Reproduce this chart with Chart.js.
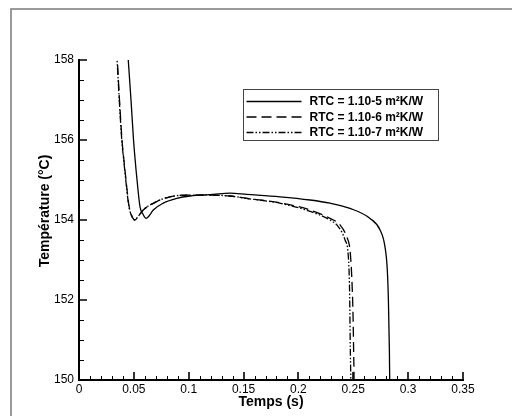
<!DOCTYPE html>
<html>
<head>
<meta charset="utf-8">
<script src="https://cdn.jsdelivr.net/npm/chart.js@4.4.1/dist/chart.umd.min.js"></script>
<style>
  html, body { margin: 0; padding: 0; background: #fff; }
  #wrap { width: 512px; height: 416px; }
</style>
</head>
<body>
<div id="wrap"><canvas id="tempChart" width="512" height="416"></canvas></div>
<script>
  // valeurs : temps (s) / température (°C)
  var labels = ['RTC = 1.10-5 m\u00b2K/W', 'RTC = 1.10-6 m\u00b2K/W', 'RTC = 1.10-7 m\u00b2K/W'];

  var tempsRtc5 = [0.0419, 0.0449, 0.0474, 0.0497, 0.0520, 0.0538, 0.0556, 0.0583, 0.0611, 0.0638, 0.0677, 0.0768, 0.0891, 0.1012, 0.1222, 0.1376, 0.1529, 0.1832, 0.2106, 0.2288, 0.2470, 0.2653, 0.2744, 0.2789, 0.2810, 0.2820, 0.2829, 0.2832, 0.2835];
  var tempRtc5  = [159.0, 158.0, 157.0, 156.0, 155.25, 154.75, 154.33, 154.15, 154.04, 154.10, 154.25, 154.42, 154.54, 154.60, 154.64, 154.67, 154.64, 154.58, 154.50, 154.42, 154.29, 154.04, 153.75, 153.33, 152.75, 152.0, 150.75, 150.0, 149.0];

  var tempsRtc6 = [0.0328, 0.0349, 0.0369, 0.0392, 0.0419, 0.0438, 0.0456, 0.0479, 0.0510, 0.0538, 0.0586, 0.0708, 0.0830, 0.0982, 0.1222, 0.1376, 0.1529, 0.1832, 0.2106, 0.2288, 0.2379, 0.2440, 0.2470, 0.2486, 0.2498, 0.2503, 0.2507, 0.2509];
  var tempRtc6  = [159.0, 158.0, 157.0, 156.0, 155.25, 154.75, 154.35, 154.12, 154.0, 154.08, 154.25, 154.46, 154.58, 154.62, 154.62, 154.60, 154.54, 154.43, 154.25, 154.04, 153.88, 153.58, 153.25, 152.58, 151.58, 150.75, 150.0, 149.0];

  var tempsRtc7 = [0.0326, 0.0347, 0.0367, 0.0390, 0.0417, 0.0436, 0.0454, 0.0477, 0.0508, 0.0536, 0.0584, 0.0706, 0.0828, 0.0980, 0.1220, 0.1374, 0.1527, 0.1830, 0.2100, 0.2288, 0.2364, 0.2425, 0.2455, 0.2466, 0.2473, 0.2477, 0.2479];
  var tempRtc7  = [159.0, 158.0, 157.0, 156.0, 155.25, 154.75, 154.35, 154.12, 154.0, 154.08, 154.25, 154.46, 154.58, 154.62, 154.62, 154.60, 154.54, 154.42, 154.22, 154.0, 153.83, 153.5, 153.08, 152.25, 150.75, 150.0, 149.0];

  var xTicks = [0, 0.05, 0.1, 0.15, 0.2, 0.25, 0.3, 0.35];
  var yTicks = [150, 152, 154, 156, 158];
  var yTitle = 'Température (°C)';

  function points(xs, ys) {
    return xs.map(function (t, i) { return {x: t, y: ys[i]}; });
  }

  var FONT = "'Liberation Sans', Arial, Helvetica, sans-serif";

  // cadre gris, titre vertical, graduations vers l'intérieur et légende encadrée
  var decor = {
    id: 'decor',
    beforeDraw: function (chart) {
      var ctx = chart.ctx, a = chart.chartArea;
      ctx.save();
      ctx.strokeStyle = '#7a7a7a';
      ctx.lineWidth = 1.5;
      ctx.beginPath();
      ctx.moveTo(11, chart.height);
      ctx.lineTo(11, 9);
      ctx.lineTo(chart.width, 9);
      ctx.stroke();

      ctx.translate(45, (a.top + a.bottom) / 2 - 9);
      ctx.rotate(-Math.PI / 2);
      ctx.font = 'bold 14px ' + FONT;
      ctx.fillStyle = '#000';
      ctx.textAlign = 'center';
      ctx.textBaseline = 'middle';
      ctx.fillText(yTitle, 0, 0);
      ctx.restore();
    },
    afterDatasetsDraw: function (chart) {
      var ctx = chart.ctx, a = chart.chartArea;
      var sx = chart.scales.x, sy = chart.scales.y;
      ctx.save();
      ctx.strokeStyle = '#000';

      // graduations secondaires
      ctx.lineWidth = 1;
      ctx.beginPath();
      for (var i = 0; i <= 35; i++) {
        if (i % 5 === 0) continue;
        var px = Math.round(sx.getPixelForValue(i / 100)) + 0.5;
        ctx.moveTo(px, a.bottom);
        ctx.lineTo(px, a.bottom - 4);
      }
      for (var k = 0; k <= 16; k++) {
        if (k % 4 === 0) continue;
        var py = Math.round(sy.getPixelForValue(150 + k * 0.5)) + 0.5;
        ctx.moveTo(a.left, py);
        ctx.lineTo(a.left + 5, py);
      }
      ctx.stroke();

      // graduations principales
      ctx.lineWidth = 1.6;
      ctx.beginPath();
      xTicks.forEach(function (v) {
        var px = Math.round(sx.getPixelForValue(v));
        ctx.moveTo(px, a.bottom);
        ctx.lineTo(px, a.bottom - 8);
      });
      yTicks.forEach(function (v) {
        var py = Math.round(sy.getPixelForValue(v));
        ctx.moveTo(a.left, py);
        ctx.lineTo(a.left + 8, py);
      });
      ctx.stroke();

      // légende
      var bx = 243.5, by = 89.5, bw = 195, bh = 51;
      ctx.fillStyle = '#fff';
      ctx.fillRect(bx, by, bw, bh);
      ctx.strokeStyle = '#444';
      ctx.lineWidth = 1;
      ctx.strokeRect(bx, by, bw, bh);
      ctx.font = 'bold 12px ' + FONT;
      ctx.textBaseline = 'middle';
      ctx.textAlign = 'left';
      chart.data.datasets.forEach(function (ds, j) {
        var ly = by + 12 + j * 15.5;
        ctx.strokeStyle = ds.borderColor;
        ctx.lineWidth = ds.borderWidth;
        ctx.setLineDash(ds.borderDash || []);
        ctx.beginPath();
        ctx.moveTo(bx + 3, ly);
        ctx.lineTo(bx + 58, ly);
        ctx.stroke();
        ctx.setLineDash([]);
        ctx.fillStyle = '#000';
        ctx.fillText(ds.label, bx + 66, ly + 0.5);
      });
      ctx.restore();
    }
  };

  var ctx = document.getElementById('tempChart').getContext('2d');
  var myChart = new Chart(ctx, {
    type: 'line',
    data: {
      datasets: [{
        label: labels[0],
        data: points(tempsRtc5, tempRtc5),
        borderColor: '#000',
        borderWidth: 1.3
      }, {
        label: labels[1],
        data: points(tempsRtc6, tempRtc6),
        borderColor: '#000',
        borderWidth: 1.3,
        borderDash: [10, 5]
      }, {
        label: labels[2],
        data: points(tempsRtc7, tempRtc7),
        borderColor: '#000',
        borderWidth: 1.3,
        borderDash: [7, 2, 1.5, 2, 1.5, 2]
      }]
    },
    options: {
      responsive: false,
      animation: false,
      events: [],
      elements: {
        point: { radius: 0 },
        line: { cubicInterpolationMode: 'monotone', fill: false }
      },
      layout: { padding: { left: 37, right: 49, top: 60, bottom: 5 } },
      plugins: { legend: { display: false }, tooltip: { enabled: false } },
      scales: {
        x: {
          type: 'linear',
          min: 0,
          max: 0.35,
          afterFit: function (s) { s.height = 31; },
          afterBuildTicks: function (s) { s.ticks = xTicks.map(function (v) { return {value: v}; }); },
          grid: { display: false, drawTicks: false },
          border: { display: true, color: '#000', width: 2 },
          ticks: {
            padding: 2,
            color: '#000',
            font: { family: FONT, size: 12 },
            maxRotation: 0,
            autoSkip: false,
            callback: function (v) { return String(+(+v).toFixed(2)); }
          },
          title: {
            display: true,
            text: 'Temps (s)',
            color: '#000',
            padding: 0,
            font: { family: FONT, size: 14, weight: 'bold' }
          }
        },
        y: {
          min: 150,
          max: 158,
          afterFit: function (s) { s.width = 42; },
          afterBuildTicks: function (s) { s.ticks = yTicks.map(function (v) { return {value: v}; }); },
          grid: { display: false, drawTicks: false },
          border: { display: true, color: '#000', width: 2 },
          ticks: {
            padding: 5,
            color: '#000',
            font: { family: FONT, size: 12 },
            autoSkip: false,
            callback: function (v) { return String(v); }
          },
          title: { display: false }
        }
      }
    },
    plugins: [decor]
  });
</script>
</body>
</html>
